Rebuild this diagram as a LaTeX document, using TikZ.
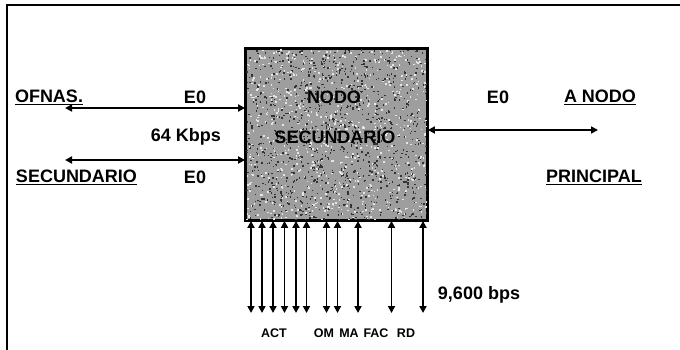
\documentclass[tikz,border=0pt]{standalone}
\usepackage{fontspec}
\setmainfont{Liberation Sans}
\usetikzlibrary{arrows.meta}
\tikzset{
  big/.style={font=\fontsize{18}{20}\selectfont\bfseries, inner sep=0pt},
  small/.style={font=\fontsize{12.5}{14}\selectfont\bfseries, inner sep=0pt},
  dar/.style={line width=1.7pt, {Triangle[length=7pt,width=7pt]}-{Triangle[length=7pt,width=7pt]}},
  nodebox/.style={draw, line width=1.8pt, fill=black!38, minimum width=181pt, minimum height=171pt, inner sep=0pt},
  frame/.style={line width=1.6pt}
}
\begin{document}
\begin{tikzpicture}[x=1pt,y=-1pt]
\useasboundingbox (0,0) rectangle (680,350);
% frame
\coordinate (fbl) at (7,350);
\coordinate (ftl) at (7,5);
\coordinate (ftr) at (680,5);
\draw[frame] (fbl) -- (ftl) -- (ftr);
% main box
\node[nodebox] (box) at (336.5,134.5) {};
\pgfmathsetseed{7}
\begin{scope}
\clip (box.south west) rectangle (box.north east);
\foreach \k in {1,...,1100}{
  \pgfmathsetmacro{\rx}{246+181*rnd}
  \pgfmathsetmacro{\ry}{49+171*rnd}
  \fill[black!80] (\rx,\ry) rectangle ++(1.5,1.5);
}
\foreach \k in {1,...,700}{
  \pgfmathsetmacro{\rx}{246+181*rnd}
  \pgfmathsetmacro{\ry}{49+171*rnd}
  \fill[white!90!black] (\rx,\ry) rectangle ++(1.6,1.6);
}
\end{scope}
\draw[line width=1.8pt] (box.south west) rectangle (box.north east);
\node[big] (nodo) at (334,97) {NODO};
\node[big] (nsec) at (335,137) {SECUNDARIO};
% left connections
\coordinate (ofl) at (65,108);
\coordinate (sel) at (65,160);
\draw[dar] (ofl) -- (box.west |- ofl);
\draw[dar] (sel) -- (box.west |- sel);
\node[big] (ofnas) at (49,97) {\underline{OFNAS.}};
\node[big] (secl) at (76.5,177) {\underline{SECUNDARIO}};
\node[big] (e0a) at (195,97) {E0};
\node[big] (e0b) at (195,177) {E0};
\node[big] (k64) at (186,137) {64 Kbps};
% right connection
\coordinate (anr) at (598,130);
\draw[dar] (box.east |- anr) -- (anr);
\node[big] (e0c) at (498,97) {E0};
\node[big] (anodo) at (600,97) {\underline{A NODO}};
\node[big] (princ) at (594,177) {\underline{PRINCIPAL}};
% bottom connections
\foreach \i/\x in {1/251,2/262,3/273,4/284.5,5/296,6/306.5,7/326.5,8/337.5,9/358,10/391.5,11/423}{
  \coordinate (b\i) at (\x,313);
  \draw[dar] (b\i) -- (b\i |- box.south);
}
\node[big] (bps) at (479,295) {9,600 bps};
\node[small] (act) at (274,333) {ACT};
\node[small] (om) at (324,333) {OM};
\node[small] (ma) at (349,333) {MA};
\node[small] (fac) at (376,333) {FAC};
\node[small] (rd) at (406,333) {RD};
\end{tikzpicture}
\end{document}
